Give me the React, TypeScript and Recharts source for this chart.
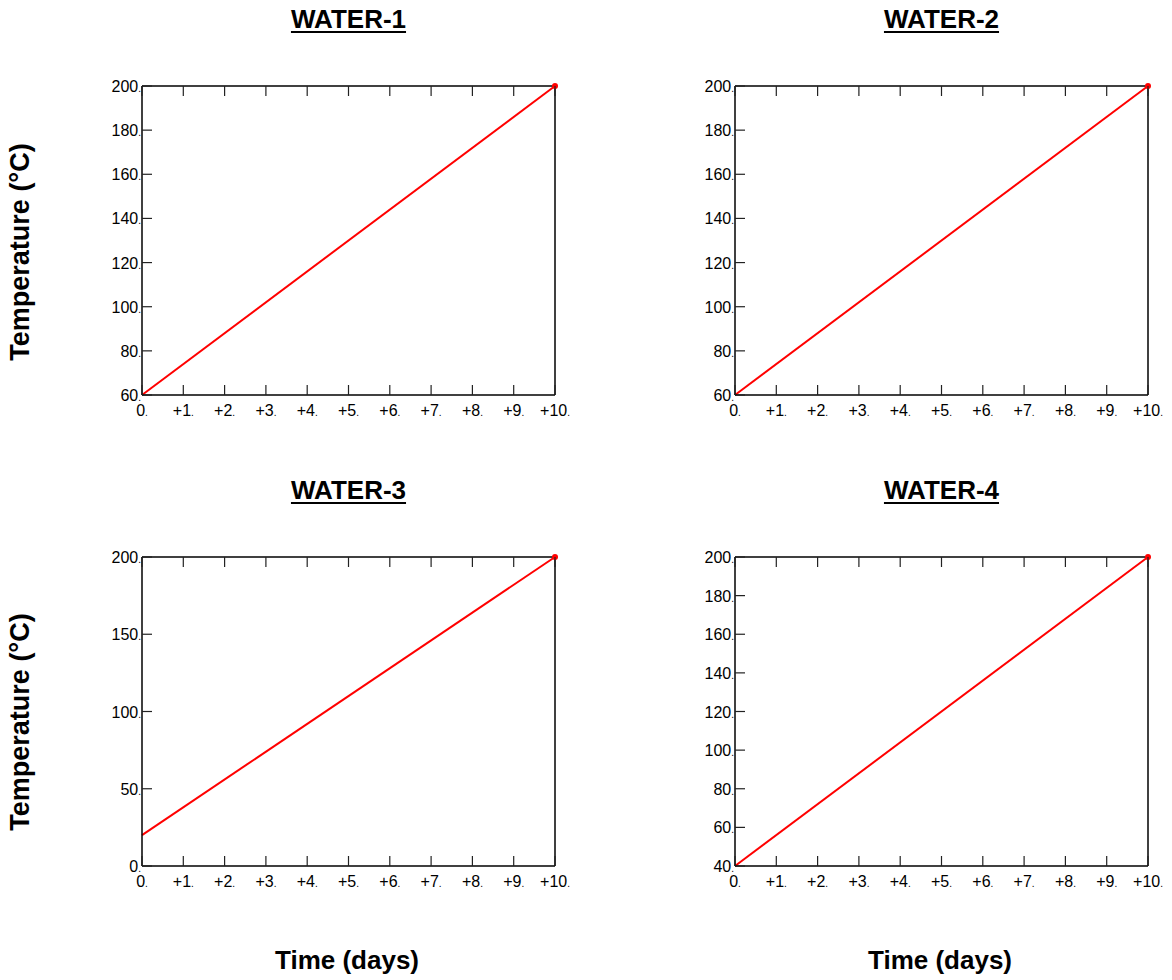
import React from "react"
import { LineChart, Line, XAxis, YAxis } from "recharts"

const days = [0, 10]
const water1 = [60, 200]
const water2 = [60, 200]
const water3 = [20, 200]
const water4 = [40, 200]

const dayTicks = [0, 1, 2, 3, 4, 5, 6, 7, 8, 9, 10]
const ticks60 = [60, 80, 100, 120, 140, 160, 180, 200]
const ticks0 = [0, 50, 100, 150, 200]
const ticks40 = [40, 60, 80, 100, 120, 140, 160, 180, 200]

const FONT = '"Liberation Sans", Arial, Helvetica, sans-serif'

const fmtDay = (v: number) => (v === 0 ? "0" : `+${v}`)

const BottomTick = (props: any) => {
  const { x, y, payload } = props
  return (
    <g>
      <line x1={x} y1={y} x2={x} y2={y - 10} stroke="#222" strokeWidth={1.2} />
      <text x={x} y={y + 21} textAnchor="middle" fontSize={16} fill="#000" fontFamily={FONT}>
        {fmtDay(payload.value)}
        <tspan fontSize={10}>.</tspan>
      </text>
    </g>
  )
}

const TopTick = (props: any) => {
  const { x, y } = props
  return <line x1={x} y1={y} x2={x} y2={y + 10} stroke="#222" strokeWidth={1.2} />
}

const LeftTick = (props: any) => {
  const { x, y, payload } = props
  return (
    <g>
      <line x1={x} y1={y} x2={x + 10} y2={y} stroke="#222" strokeWidth={1.2} />
      <text x={x - 1} y={y + 6} textAnchor="end" fontSize={16} fill="#000" fontFamily={FONT}>
        {payload.value}
        <tspan fontSize={10}>.</tspan>
      </text>
    </g>
  )
}

const RightTick = (props: any) => {
  const { x, y } = props
  return <line x1={x} y1={y} x2={x - 10} y2={y} stroke="#222" strokeWidth={1.2} />
}

const EndDot = (props: any) => {
  const { cx, cy, index } = props
  if (index !== days.length - 1) return <g key={`d-${index}`} />
  return <circle key={`d-${index}`} cx={cx} cy={cy} r={3} fill="#ff0000" />
}

function Panel({
  title,
  values,
  yTicks,
  left,
  top,
}: {
  title: string
  values: number[]
  yTicks: number[]
  left: number
  top: number
}) {
  const data = days.map((d, i) => ({ day: d, temp: values[i] }))
  const domain = [yTicks[0], yTicks[yTicks.length - 1]]
  const axisLine = { stroke: "#000", strokeWidth: 1.5 }
  return (
    <>
      <div
        style={{
          position: "absolute",
          left: left + 60,
          width: 413,
          top: top - 72,
          textAlign: "center",
          fontFamily: FONT,
          fontWeight: "bold",
          fontSize: 26,
          textDecoration: "underline",
          textDecorationThickness: 2,
          textUnderlineOffset: 3,
        }}
      >
        {title}
      </div>
      <div style={{ position: "absolute", left, top }}>
        <LineChart width={493} height={349} data={data} margin={{ top: 9, right: 19, bottom: 0, left: 0 }}>
          <XAxis
            dataKey="day"
            type="number"
            domain={[0, 10]}
            ticks={dayTicks}
            height={30}
            tickSize={0}
            tickMargin={0}
            tickLine={false}
            axisLine={axisLine}
            tick={<BottomTick />}
            interval={0}
          />
          <XAxis
            xAxisId="top"
            dataKey="day"
            type="number"
            orientation="top"
            domain={[0, 10]}
            ticks={dayTicks}
            height={1}
            tickSize={0}
            tickMargin={0}
            tickLine={false}
            axisLine={axisLine}
            tick={<TopTick />}
            interval={0}
          />
          <YAxis
            type="number"
            domain={domain}
            ticks={yTicks}
            width={60}
            tickSize={0}
            tickMargin={0}
            tickLine={false}
            axisLine={axisLine}
            tick={<LeftTick />}
            interval={0}
          />
          <YAxis
            yAxisId="right"
            type="number"
            orientation="right"
            domain={domain}
            ticks={yTicks}
            width={1}
            tickSize={0}
            tickMargin={0}
            tickLine={false}
            axisLine={axisLine}
            tick={<RightTick />}
            interval={0}
          />
          <Line
            type="linear"
            dataKey="temp"
            stroke="#ff0000"
            strokeWidth={2}
            dot={<EndDot />}
            activeDot={false}
            isAnimationActive={false}
          />
        </LineChart>
      </div>
    </>
  )
}

const yLabelStyle = (cy: number): React.CSSProperties => ({
  position: "absolute",
  left: 20,
  top: cy,
  transform: "translate(-50%, -50%) rotate(-90deg)",
  whiteSpace: "nowrap",
  fontFamily: FONT,
  fontWeight: "bold",
  fontSize: 27,
})

const xLabelStyle = (cx: number): React.CSSProperties => ({
  position: "absolute",
  left: cx,
  top: 960,
  transform: "translate(-50%, -50%)",
  whiteSpace: "nowrap",
  fontFamily: FONT,
  fontWeight: "bold",
  fontSize: 26,
})

export default function App() {
  return (
    <div style={{ position: "absolute", left: 0, top: 0, width: 1172, height: 980, background: "#fff" }}>
      <Panel title="WATER-1" values={water1} yTicks={ticks60} left={82} top={76} />
      <Panel title="WATER-2" values={water2} yTicks={ticks60} left={675} top={76} />
      <Panel title="WATER-3" values={water3} yTicks={ticks0} left={82} top={547} />
      <Panel title="WATER-4" values={water4} yTicks={ticks40} left={675} top={547} />
      <div style={yLabelStyle(252)}>Temperature (°C)</div>
      <div style={yLabelStyle(722)}>Temperature (°C)</div>
      <div style={xLabelStyle(347)}>Time (days)</div>
      <div style={xLabelStyle(940)}>Time (days)</div>
    </div>
  )
}
